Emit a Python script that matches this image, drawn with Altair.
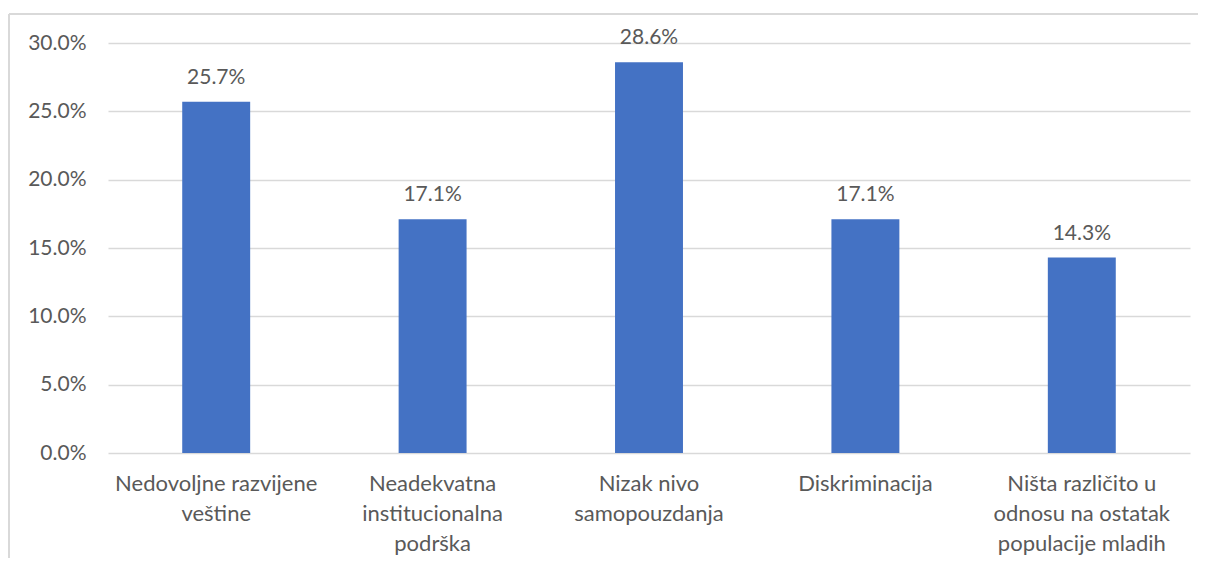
import altair as alt
import pandas as pd

categories = [
    "Nedovoljne razvijene\nveštine",
    "Neadekvatna\ninstitucionalna\npodrška",
    "Nizak nivo\nsamopouzdanja",
    "Diskriminacija",
    "Ništa različito u\nodnosu na ostatak\npopulacije mladih",
]
values = [0.257, 0.171, 0.286, 0.171, 0.143]
y_ticks = [0.0, 0.05, 0.10, 0.15, 0.20, 0.25, 0.30]

df = pd.DataFrame({"cat": categories, "val": values})

FONT = "Lato"
TXT = "#595959"
FS = 21
W, H = 1082, 410

x = alt.X(
    "cat:N",
    sort=categories,
    scale=alt.Scale(paddingInner=0.686, paddingOuter=0.343),
    axis=alt.Axis(
        title=None, labelAngle=0, domain=False, ticks=False,
        labelExpr="split(datum.label, '\\n')",
        labelFont=FONT, labelFontSize=22, labelColor=TXT,
        labelPadding=20, labelLineHeight=30, labelBaseline="top",
        labelLimit=300,
    ),
)
y = alt.Y(
    "val:Q",
    scale=alt.Scale(domain=[0, 0.30], nice=False),
    axis=alt.Axis(
        title=None, values=y_ticks, format=".1%", domain=False, ticks=False,
        labelFont=FONT, labelFontSize=FS, labelColor=TXT, labelPadding=22,
        gridColor="#d9d9d9", gridWidth=1.3,
    ),
)

base = alt.Chart(df)
bars = base.mark_bar(color="#4472C4").encode(x=x, y=y)
labels = base.mark_text(
    baseline="bottom", dy=-14, font=FONT, fontSize=FS, color=TXT
).encode(x=x, y=y, text=alt.Text("val:Q", format=".1%"))

frame_top = base.mark_rule(color="#d9d9d9", strokeWidth=2).encode(
    x=alt.value(-99), x2=alt.value(1110), y=alt.value(-29)
)
frame_left = base.mark_rule(color="#d9d9d9", strokeWidth=2).encode(
    x=alt.value(-99), y=alt.value(-29), y2=alt.value(530)
)

chart = (
    alt.layer(frame_top, frame_left, bars, labels)
    .properties(
        width=W, height=H,
        autosize=alt.AutoSizeParams(type="none"),
        padding={"left": 100, "top": 35, "right": 8, "bottom": 105},
        background="white",
    )
    .configure_view(stroke=None)
)

chart.save("out.html", embed_options={"renderer": "svg", "actions": False})
